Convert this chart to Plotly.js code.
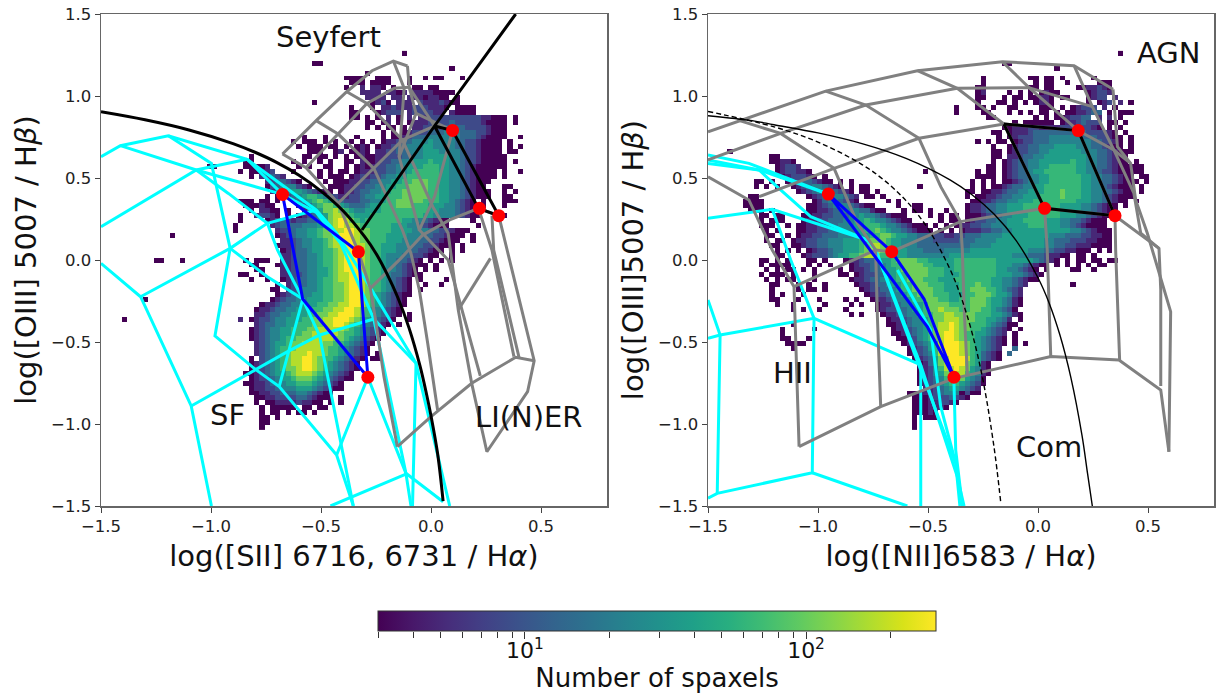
<!DOCTYPE html>
<html><head><meta charset="utf-8">
<script src="https://cdn.plot.ly/plotly-3.0.1.min.js"></script>
<style>html,body{margin:0;padding:0;background:#fff}</style></head>
<body><div id="chart" style="width:1218px;height:695px"></div>
<script>
// Heatmap cells, read row by row from the top (y = 1.26, step 0.03). Digit = colour level 0..9, '.' = empty.
// "n|cells" = the cells begin at column n; segments are comma separated.
const siiRows = [
"32|0","","15|00","41|0","25|0",
"21|0000,27|000,33|0,36|0,38|00,43|0",
"22|000,26|0000,33|0",
"21|0,24|1,26|110,30|0,34|00,37|00",
"24|1111,29|1101,34|11110000",
"25|1111,30|11,33|11101100,42|0",
"15|0,26|0120,31|111,35|21112100",
"22|0,26|0,28|1121112221110,42|0000",
"22|00,27|01222,33|1222211,41|10000",
"..... ..... ..... ..... ..00. 0.0.1 .0.1. 11222 22222 22110 00.0.",
"..... ..... ..... ..... ..... 00.01 .0.01 11222 23222 22100 00.0.",
"..... ..... ..... ..... ..... 0.0.0 0.0.1 12222 33332 22210 00...",
"..... ..... ..... ..... ..... ...0. 0.012 22333 44433 32210 00...",
"..... ..... ...0. ..0.. ...0. ...0. 00123 33444 44433 32100 00..0",
"..... ..... .0.00 0.0.0 ..0.0 .0.01 12334 44544 44332 21000 0.0..",
"..... ..... ..0.0 00.00 .0.01 0.011 23344 45544 44332 21000 0.0.0",
"..... ..... ....0 00..0 1.001 0.112 23344 45554 44432 21000 0.00.",
"...0. ..... ...00 .00.0 .0.01 00112 22334 45555 54432 21000 00...",
"..00. ..... .0.0. .0.0. .00.1 00122 33445 55655 54432 21000 00.0.",
"..000 01... ..0.0 ..00. .0.01 01223 34455 56665 54432 10000 00...",
"...00 112.. .0... .0.0. 00.01 11223 34456 66665 54432 10000 .0..0",
"...0. 12321 ..... .0.00 0.012 12234 45566 66665 54432 10000 .0...",
"..... .1233 210.. ..0.0 00112 23344 55667 77665 54432 1000. .....",
"..... .0234 44210 ...00 01122 33445 56677 77665 54432 100.. .00..",
"..... ..123 45543 2100. 01123 34455 66777 77665 54432 1000. .0.0.",
"..... .0.0. 23456 65432 11223 44556 66777 77665 54432 1000. .00..",
".000. 00.0. .1345 67654 32223 34456 67777 76665 54321 0.0.. .000.",
"..000 100.. ..123 56776 54333 45566 67776 66555 44321 000.. .0...",
"...0. 1100. 0..12 45778 76544 55566 66666 66554 44321 00... .....",
".0..1 2210. 0.012 34578 87655 56666 66666 65544 44321 00... .0...",
".0... .0123 21223 34578 98765 66666 66554 43210 0.... 0.... .....",
"0.... ..123 33344 45678 98876 66666 55544 32100 0.... .0... .....",
"0.... ...12 23445 56778 89987 76666 55554 44332 21000 ..... .....",
"..... ...01 23445 56778 99987 76665 55544 43322 1000. 0.... .....",
"..... ....1 12344 55678 99987 76665 55444 33221 000.. 0.... .....",
"..... ...01 12344 55678 89988 76655 54443 32210 00.0. ..... .....",
"..... ....0 12334 55667 89998 76655 54433 22100 .0.0. ..... .....",
"..... ....1 12334 45667 89998 76654 44332 2100. .0... ..... .....",
"..0.0 00..1 12334 45667 89998 76654 43321 0.0.0 .0... ..... .....",
"...00 ...01 12334 45667 89998 76654 43210 00.0. ..... ..... .....",
"....0 0...1 12334 45567 89998 76654 43210 .0.0. ..... ..... .....",
".00.. 0...1 12234 45567 88998 76654 33210 0.... ..... ..... .....",
"...0. .0..0 12334 45667 88998 76654 3210. 0.... 0.... ..... .....",
"..... ...0. 12334 45667 78998 76654 3210. .0..0 ..... ..... .....",
"..... ..00. 12344 45667 78998 76654 3210. 0.... ..... ..... .....",
"..... ...01 23344 55667 78998 76543 2100. ..... ..... ..... .....",
"..... ..012 33445 55667 78998 76543 210.. ..... ..... ..... .....",
"..... 01123 34455 56677 88998 76543 210.. ..... ..... ..... .....",
"....0 11233 44555 66778 89987 65432 10... ..... ..... ..... .....",
"....1 12334 45556 67788 99987 65432 10.0. ..... ..... ..... .....",
"...01 22344 55566 77889 99876 54321 0..0. ..... ..... ..... .....",
"....1 23344 55666 77889 98765 43210 .0... ..... ..... ..... .....",
"...01 23445 56667 78888 87654 3210. ..... ..... ..... ..... .....",
"...01 23445 56677 88888 76654 3210. ..... ..... ..... ..... .....",
"...01 23445 66777 88887 76543 210.. ..... ..... ..... ..... .....",
"....1 23455 67788 88776 65432 10... ..... ..... ..... ..... .....",
"....1 23456 67888 88766 54321 0.... ..... ..... ..... ..... .....",
"....1 23456 78889 88766 54321 0.0.. ..... ..... ..... ..... .....",
"...0. 23456 78899 87665 43210 .00.. ..... ..... ..... ..... .....",
"...01 23456 78899 87654 3210. ..... ..... ..... ..... .....",
"...01 23456 77899 87654 3210. ..... ..... ..... ..... .....",
"..001 23455 67888 76543 210.. ..... ..... ..... ..... .....",
"...01 22345 56777 65432 100.. ..... ..... ..... ..... .....",
"..001 12344 55666 54321 0.... ..... ..... ..... ..... .....",
"...01 12234 44555 43210 0.... ..... ..... ..... ..... .....",
"...00 11223 33443 2100. ..... ..... ..... ..... ..... .....",
"....0 01122 22332 1000. 0.... ..... ..... ..... ..... .....",
"....0 .0011 11211 00.0. 0.... ..... ..... ..... ..... .....",
"..... 0.000 00.00 .00.. ..... ..... ..... ..... ..... .....",
"..... 0.00. 0.00. 0.... ..... ..... ..... ..... ..... .....",
"..... 00.0.","..... 00...","..... 0...."
];
const niiRows = [
"71|0","","49|00","59|0","",
"45|0,54|00.00.0,66|0",
"45|0,54|.0.00..0,66|.000",
"44|00,54|00.00,63|0011210",
"44|01,50|0.0.0.0100,65|01221",
"44|00,49|0.00.00110.00,65|0122.1",
"44|0,48|00.0.0.0110,65|0.012.1.0",
"40|0,44|00.0,50|00,56|000.0.01222.1.0",
"40|0,44|.00,50|0.0.0.00.0.0011233.0.000",
"46|00,55|0.0.0,59|.012233,67|1.1.0",
"46|.....0.000000.01123222.00.0",
"46|...0011122111122222210.0.0",
"47|00.011123333333333222210.0",
"47|.0.0122233344444433322100.0",
"44|0.0.00.012233344444444332210.0",
"47|0..0122334445555444332100.0",
"47|00.012233445555554443321000",
"5|00,46|.00.11233445555555544332100",
"5|00110,46|.0.012334455555565544332100.0",
"5|.01221,46|00.012334455666665544332100000",
"6|0122110,34|0,44|0.00.012334556666665544322100000",
"6|.0122210.0,44|0000.0123344556666665544332100.00",
"2|00.0,8|012332100.0,20|0,43|0.0.0.00123445566666655443321000.0",
"2|0.0.0,9|0123443210,20|0.00,33|0,43|0.0.001233445566666665544321000.0",
"10|01234443210,22|00.0,42|00.00112334455566676665544332100.0",
"0|.00,11|.0123444321,23|00.0,42|0.001123344555666676665544321000",
"0|0000,13|0134 43210,27|0.0,42|.0011 23344 55566 66666 65554 43210 0.0",
"0|0000,12|00123 44432 100,28|.0..00,41|.0112 33445 55666 66665 55544 32100 .0",
"1|000.0,12|00112 33444 33100,30|0.00.0..0.,41|.0112 33445 55666 66665 55544 32100",
"3|00.0,7|0,11|00112 23334 45443 21000,35|0.0.0 0.000 12334 45556 66666 55544 32100 0",
"3|0.00,6|00,11|01122 33344 55654 43210 0,37|0.00. 01223 34455 56666 55544 33210 00",
"3|000,7|.0,10|00112 23344 45566 65443 21000 .0,37|.0.01 12233 44455 55666 55544 32100 00",
"4|0,6|0,10|00112 23334 45566 76544 32100 0.0.0 .0111 22334 45555 55555 55443 21000",
"4|00,8|0,10|01122 33344 45556 67765 54433 32211 22333 44445 55555 55544 43332 21100",
"4|0.0,7|0.0,10|11223 34445 55667 77655 44433 32222 23334 44455 55555 55443 33222 11000",
"5|00,9|0,10|01223 34445 55678 87655 44433 33333 33344 44555 55555 55443 32211 10000",
"6|0.0,10|0.012 23445 55678 87655 54443 33344 44455 55555 55554 44332 21100 0.0.0",
"6|00,10|.0122 23455 66788 76655 54444 44445 55555 55555 54443 33211 00.00 .0",
"3|00.0,8|0,12|00.0,19|0,20|11233 45567 77766 55555 66666 66655 55555 43210 .0.00 .00.0 0",
"3|0.00,7|00,12|0.0.0,20|01223 34566 77776 65555 66666 66655 54432 100.0 .0.0. 0.00",
"4|0.0,8|00,11|0.0,18|0.0,20|.1123 34556 77777 66655 66666 66655 44321 0.0.. ..00. .0",
"3|0.00,7|0.0,13|0,18|00,21|0122 33556 67777 66655 56666 66655 54432 10",
"4|0.0,8|00,13|0,20|01123 34556 67776 66555 66666 66554 43210 0",
"5|00,10|0.0,15|0,21|0112 33455 66777 66655 56667 66554 4321,62|0",
"5|0,10|0.00,15|0,22|012 23345 66777 76655 56677 76654 321",
"5|0.0,11|0,23|012 23445 66777 66655 56677 76554 21",
"5|00,10|0,14|0,19|0.0,24|01 12344 56677 76655 66777 65543 10",
"6|0,9|0,15|0,20|0.0,25|01123 44556 77776 66677 76554 310",
"9|0.0,14|0,19|0,25|01223 34556 77877 76677 66543 20",
"20|0.0,26|0112 34456 67788 77776 66554 310",
"27|011 23445 67788 87776 65543 1.0",
"9|0,27|001 13445 67889 87766 65432 00",
"7|0,13|0,28|01 12345 67889 87766 54321 0.0",
"7|0,28|00 12345 67899 87665 54321 .0",
"7|00,12|0,29|0 01245 67899 87665 43210 .0",
"8|00,10|00,30|01234 56899 98765 43210 .0.0",
"9|0,30|.0123 56899 98765 4321. .3",
"31|0123 46899 98765 3210. 3",
"32|012 35789 99865 3210",
"33|01 35789 99765 10",
"33|01 24688 98754 10",
"33|01 24578 88654 10",
"33|01 23467 77543 0",
"33|01 23456 65432 0",
"33|.1 12345 54321",
"31|00,33|01 12344 44210,41|0.00",
"32|00 01222 3210",
"32|00 0112 210",
"32|00 0111 0",
"32|00 010",
"32|0.0 00",
"32|0",
"32|0"
];
// isolated cells: [column, row, level]
const siiStray = [[-21,54,0],[-17,50,0],[-15,42,0],[-14,42,0],[-10,42,0],[-12,37,0],[-5,23,0],[-4,23,0],[1,24,0],[1,54,1]];
const niiStray = [[-3,20,0],[12,58,0]];

const binDx = 0.024, binDy = 0.03, rowTop = 1.26;
const siiX0 = -0.9, niiX0 = -1.34;
const countMin = 3, countMax = 290;
const xRange = [-1.5, 0.8], yRange = [-1.5, 1.5];
const axisTicks = [-1.5, -1.0, -0.5, 0.0, 0.5, 1.0, 1.5];
const axisTickText = ["\u22121.5", "\u22121.0", "\u22120.5", "0.0", "0.5", "1.0", "1.5"];
const cbarMajorCounts = [10, 100];
const cbarMajorText = ["10<sup>1</sup>", "10<sup>2</sup>"];
const cbarMinorCounts = [3,4,5,6,7,8,9,20,30,40,50,60,70,80,90,200];

// Demarcation lines
const siiCurve = [[-1.5,.904],[-1.3,.855],[-1.1,.793],[-.9,.71],[-.8,.657],[-.7,.594],[-.6,.517],[-.5,.42],[-.4,.3],[-.3,.139],[-.25,.04],[-.2,-.085],[-.15,-.232],[-.1,-.414],[-.05,-.646],[-.02,-.82],[0,-.95],[.03,-1.18],[.055,-1.47]];
const siiSeyfert = [[-.314,.183],[.016,.817],[.385,1.5]];
const siiBlack = [[.016,.817],[.098,.789],[.308,.27],[.216,.315],[.016,.817]];
const niiCurve = [[-1.5,.88],[-1.3,.85],[-1.2,.825],[-1,.775],[-.8,.71],[-.6,.62],[-.4,.489],[-.3,.398],[-.2,.28],[-.1,.12],[0,-.108],[.05,-.26],[.1,-.459],[.15,-.72],[.2,-1.07],[.225,-1.3],[.247,-1.5]];
const niiDashed = [[-1.5,.906],[-1.2,.812],[-1,.719],[-.8,.582],[-.7,.487],[-.6,.362],[-.5,.191],[-.4,-.056],[-.35,-.225],[-.3,-.443],[-.25,-.733],[-.2,-1.14],[-.17,-1.47]];
const niiBlack = [[-.155,.829],[.183,.789],[.35,.27],[.03,.315],[-.155,.829]];

// Model grids
const siiCyan = [
 [[-1.5,-.02],[-1.32,-.224],[-1.09,-.89],[-.998,-1.5]],
 [[-1.32,-.224],[-.913,.071],[-.744,.224],[-.522,.305]],
 [[-1.5,.63],[-1.412,.697],[-1.194,.758],[-.836,.614],[-.675,.4]],
 [[-1.412,.697],[-1.067,.549],[-.675,.4]],
 [[-1.5,.203],[-1.067,.549],[-.836,.614]],
 [[-1.194,.758],[-.998,.589],[-.975,.447],[-.913,.071],[-.982,-.463],[-.798,-.667],[-.69,-.772],[-.429,-1.189],[-.353,-1.5]],
 [[-1.067,.549],[-.921,.406],[-.744,.224],[-.698,.061],[-.583,-.238],[-.506,-.463],[-.353,-1.5]],
 [[-.913,.071],[-.744,-.102],[-.583,-.238],[-.69,-.772]],
 [[-.836,.614],[-.522,.305],[-.429,.163],[-.283,-.152],[-.068,-.63],[.085,-1.5]],
 [[-.675,.4],[-.522,.29],[-.41,.1],[-.26,-.36],[-.114,-1.3],[-.091,-1.5]],
 [[-1.09,-.89],[-.798,-.667],[-.652,-.559],[-.506,-.457],[-.26,-.36],[-.068,-.63],[-.084,-1.5]],
 [[-.429,-1.189],[-.287,-.715],[-.114,-1.3],[.055,-1.474]],
 [[-.457,-1.5],[-.114,-1.305]]
];
const siiGray = [
 [[-.675,.646],[-.522,.85],[-.383,1.026],[-.268,1.154],[-.171,1.213],[-.107,1.183]],
 [[-.568,.563],[-.422,.768],[-.291,.955],[-.168,1.047],[-.099,1.053]],
 [[-.422,.346],[-.26,.559],[-.13,.732],[.016,.817],[.098,.789]],
 [[-.276,-.173],[-.137,.01],[-.038,.152],[.085,.244],[.216,.315],[.308,.27]],
 [[-.153,-1.138],[0,-.955],[.185,-.752],[.385,-.593],[.469,-.614]],
 [[-.675,.646],[-.568,.563],[-.422,.346],[-.33,.05],[-.276,-.173],[-.253,-.356],[-.214,-.711],[-.153,-1.138]],
 [[-.522,.85],[-.422,.768],[-.26,.559],[-.13,.183],[-.091,.04],[-.053,-.183],[-.015,-.508],[.03,-.915]],
 [[-.383,1.026],[-.291,.955],[-.13,.732],[.008,.325],[.078,.163],[.124,-.305],[.185,-.752],[.254,-1.169],[.439,-.803],[.469,-.614],[.346,.061],[.308,.27]],
 [[.098,.789],[.016,.386],[-.053,.183],[.078,0],[.224,-.707]],
 [[.216,.315],[.277,.061],[.377,-.589]],
 [[.277,.27],[.285,.061],[.4,-.593]],
 [[-.171,1.213],[-.122,1.047],[-.145,.63],[-.053,.183]],
 [[-.107,1.183],[-.099,1.053],[-.068,.894],[-.145,.63]],
 [[-.099,1.053],[.016,.817]],
 [[-.068,.894],[.098,.789]],
 [[.124,-.305],[.27,.01]]
];
const niiCyan = [
 [[-1.5,.64],[-1.314,.589],[-.953,.402]],
 [[-1.5,.61],[-1.268,.549],[-.953,.402]],
 [[-1.5,.589],[-1.268,.549],[-1.17,.427],[-1.033,.264],[-.776,.122],[-.738,.061],[-.533,-.64],[-.367,-1.321],[-.336,-1.5]],
 [[-1.5,.254],[-1.208,.309],[-.776,.122]],
 [[-1.208,.309],[-1.124,0],[-1.018,-.356]],
 [[-1.5,-.244],[-1.445,-.457],[-1.458,-1.423]],
 [[-1.5,-.478],[-1.445,-.457],[-1.018,-.356],[-.533,-.64]],
 [[-1.018,-.356],[-1.026,-1.297],[-1.458,-1.423],[-1.5,-1.453]],
 [[-1.026,-1.297],[-.594,-1.5]],
 [[-.533,-.64],[-.533,-1.5]],
 [[-.639,-.061],[-.488,-.427],[-.442,-.894],[-.374,-1.24],[-.355,-1.5]],
 [[-.382,-.742],[-.374,-1.159],[-.344,-1.5]],
 [[-.738,.061],[-.374,-1.24]]
];
const niiGray = [
 [[-1.5,.782],[-.965,1.03],[-.548,1.154],[-.162,1.209],[.164,1.185],[.341,1.041]],
 [[-1.5,.61],[-1.17,.772],[-.783,.945],[-.367,1.047],[-.041,1.051],[.247,.935]],
 [[-1.268,.386],[-.927,.559],[-.541,.742],[-.155,.829],[.183,.789],[.345,.671],[.421,.589]],
 [[-1.109,-.163],[-.738,.061],[-.665,.051],[-.352,.234],[.03,.315],[.35,.27],[.55,.071]],
 [[-1.086,-1.138],[-.715,-.894],[-.382,-.722],[.058,-.589],[.368,-.61],[.558,-.793],[.595,-1.169]],
 [[-1.5,.508],[-1.314,.366],[-1.208,.061],[-1.109,-.163],[-1.086,-1.138]],
 [[-1.367,.854],[-1.17,.772],[-.927,.559],[-.821,.224],[-.738,.061],[-.73,-.346],[-.715,-.894]],
 [[-.965,1.03],[-.783,.945],[-.541,.742],[-.442,.447],[-.352,.234],[-.344,.061],[-.336,-.285],[-.321,-.701]],
 [[-.548,1.154],[-.367,1.047],[-.155,.829],[.03,.315],[.042,.061],[.058,-.589]],
 [[-.162,1.209],[-.041,1.051],[.183,.789],[.35,.27],[.353,.061],[.371,-.61]],
 [[.164,1.185],[.247,.935],[.345,.671],[.436,.406],[.467,.163],[.55,.071],[.558,-.183],[.558,-.768]],
 [[.341,1.041],[.361,.691],[.421,.589],[.444,.366],[.497,.163],[.603,-.315],[.595,-1.169]]
];
const siiBlue = [[-.675,.4],[-.33,.05],[-.287,-.715],[-.583,-.238],[-.675,.4]];
const niiBlue = [[-.953,.402],[-.665,.051],[-.518,-.238],[-.382,-.715],[-.503,-.407],[-.953,.402]];
const siiRedX = [-.675,-.33,-.287,.098,.22,.308], siiRedY = [.4,.05,-.715,.79,.315,.27];
const niiRedX = [-.953,-.665,-.382,.183,.03,.35], niiRedY = [.402,.051,-.715,.789,.315,.27];

const regionLabels = [
 {t:"Seyfert",x:-.464,y:1.36,p:""},{t:"SF",x:-.923,y:-.945,p:""},{t:"LI(N)ER",x:.445,y:-.957,p:""},
 {t:"AGN",x:.595,y:1.262,p:"2"},{t:"HII",x:-1.114,y:-.69,p:"2"},{t:"Com",x:.05,y:-1.14,p:"2"}
];

const logMin = Math.log10(countMin), logMax = Math.log10(countMax);
const GUTTER = 30;  // spare columns left of the origin, for isolated cells
const NCOLS = 130;
function decode(rows, stray){
  const z = rows.map(()=>new Array(NCOLS).fill(null));
  const level = c => logMin + (+c)/9*(logMax-logMin);
  rows.forEach((row,r)=>{
    row.replace(/ /g,"").split(",").forEach(seg=>{
      if(!seg) return;
      const parts = seg.split("|");
      const start = parts.length>1 ? +parts[0] : 0;
      const cells = parts[parts.length-1];
      for(let i=0;i<cells.length;i++){
        if(cells[i]!==".") z[r][GUTTER+start+i]=level(cells[i]);
      }
    });
  });
  stray.forEach(([c,r,l])=>{ z[r][GUTTER+c]=level(l); });
  return z.reverse();
}
function heat(rows, stray, x0, xa, ya){
  return {type:"heatmap", z:decode(rows,stray), x0:x0+binDx*(0.5-GUTTER), dx:binDx,
          y0:rowTop-binDy*(rows.length-1), dy:binDy, coloraxis:"coloraxis",
          xaxis:xa, yaxis:ya, hoverinfo:"skip", xgap:0, ygap:0};
}
function poly(lines, color, width, xa, ya, dash, shape){
  const x=[],y=[];
  lines.forEach(l=>{ l.forEach(p=>{x.push(p[0]);y.push(p[1]);}); x.push(null); y.push(null); });
  return {type:"scatter",mode:"lines",x,y,xaxis:xa,yaxis:ya,hoverinfo:"skip",showlegend:false,
          line:{color,width,dash:dash||"solid",shape:shape||"linear"}};
}
function red(x,y,xa,ya){
  return {type:"scatter",mode:"markers",x,y,xaxis:xa,yaxis:ya,hoverinfo:"skip",showlegend:false,
          marker:{color:"#ff0000",size:13,line:{width:0}}};
}
const CYAN="#00ffff", GRAY="#808080", BLUE="#0000ff", BLACK="#000000";
const LW=3;
const data = [
  heat(siiRows,siiStray,siiX0,"x","y"),
  poly(siiCyan,CYAN,LW,"x","y"),
  poly(siiGray,GRAY,LW,"x","y"),
  poly([siiCurve],BLACK,LW,"x","y","solid","spline"),
  poly([siiSeyfert,siiBlack],BLACK,LW,"x","y"),
  poly([siiBlue],BLUE,LW,"x","y"),
  red(siiRedX,siiRedY,"x","y"),
  heat(niiRows,niiStray,niiX0,"x2","y2"),
  poly(niiCyan,CYAN,LW,"x2","y2"),
  poly(niiGray,GRAY,LW,"x2","y2"),
  poly([niiCurve],BLACK,1.4,"x2","y2","solid","spline"),
  poly([niiDashed],BLACK,1.4,"x2","y2","5px,3px","spline"),
  poly([niiBlack],BLACK,LW,"x2","y2"),
  poly([niiBlue],BLUE,LW,"x2","y2"),
  red(niiRedX,niiRedY,"x2","y2"),
  // carries the axis that labels the colour bar
  {type:"scatter",mode:"markers",x:[countMin],y:[0],xaxis:"x3",yaxis:"y3",hoverinfo:"skip",showlegend:false,
   marker:{size:1,opacity:0}}
];
const FONT = "DejaVu Sans";
const TITLE = {family:FONT,size:29,color:"#111"};
function xAxis(dom, anchor, title){
  return {domain:dom, anchor, range:xRange, tickvals:axisTicks.slice(0,5), ticktext:axisTickText.slice(0,5),
    ticks:"outside", ticklen:5, tickwidth:1, tickcolor:"#444", tickfont:{family:FONT,size:16.5,color:"#222"},
    showgrid:false, zeroline:false, showline:true, mirror:true, linecolor:"#666", linewidth:1.5,
    title:{text:title, font:TITLE, standoff:10}, automargin:false};
}
function yAxis(dom, anchor, title){
  return {domain:dom, anchor, range:yRange, tickvals:axisTicks, ticktext:axisTickText,
    ticks:"outside", ticklen:5, tickwidth:1, tickcolor:"#444", tickfont:{family:FONT,size:16.5,color:"#222"},
    showgrid:false, zeroline:false, showline:true, mirror:true, linecolor:"#666", linewidth:1.5,
    title:{text:title, font:TITLE, standoff:6}, automargin:false};
}
const W=1218,H=695;
const yDom=[1-506/H,1-14/H];
const barDom=[378/W,936/W], barY=[1-631/H,1-611/H];
const layout = {
  width:W,height:H,paper_bgcolor:"#fff",plot_bgcolor:"#fff",showlegend:false,hovermode:false,
  margin:{l:0,r:0,t:0,b:0,pad:0,autoexpand:false},
  font:{family:FONT},
  xaxis:xAxis([101/W,607/W],"y","log([SII] 6716, 6731 / H<i>\u03b1</i>)"),
  yaxis:yAxis(yDom,"x","log([OIII] 5007 / H<i>\u03b2</i>)"),
  xaxis2:xAxis([708/W,1214/W],"y2","log([NII]6583 / H<i>\u03b1</i>)"),
  yaxis2:yAxis(yDom,"x2","log([OIII]5007 / H<i>\u03b2</i>)"),
  xaxis3:{domain:barDom, anchor:"y3", type:"log", range:[logMin,logMax], side:"bottom",
    tickmode:"array", tickvals:cbarMajorCounts, ticktext:cbarMajorText,
    ticks:"outside", ticklen:7, tickwidth:1, tickcolor:"#333", ticklabelstandoff:-7,
    minor:{tickmode:"array", tickvals:cbarMinorCounts, ticks:"outside", ticklen:6, tickwidth:1, tickcolor:"#333", showgrid:false},
    tickfont:{family:FONT,size:22,color:"#111"}, showgrid:false, zeroline:false, showline:false,
    title:{text:"Number of spaxels", font:{family:FONT,size:26,color:"#111"}, standoff:4}, automargin:false},
  yaxis3:{domain:barY, anchor:"x3", range:[0,1], visible:false, fixedrange:true},
  coloraxis:{
    colorscale:"Viridis", cmin:logMin, cmax:logMax,
    colorbar:{orientation:"h", x:378/W, xanchor:"left", y:(H-611)/H, yanchor:"top",
      lenmode:"pixels", len:558, thicknessmode:"pixels", thickness:20,
      xpad:0, ypad:0, outlinewidth:1, outlinecolor:"#333",
      ticks:"", showticklabels:false}
  },
  annotations: regionLabels.map(a=>({text:a.t, x:a.x, y:a.y, xref:"x"+a.p, yref:"y"+a.p,
    showarrow:false, font:{family:FONT,size:29,color:"#111"}}))
};
Plotly.newPlot("chart",data,layout,{displayModeBar:false,staticPlot:true});
</script></body></html>
